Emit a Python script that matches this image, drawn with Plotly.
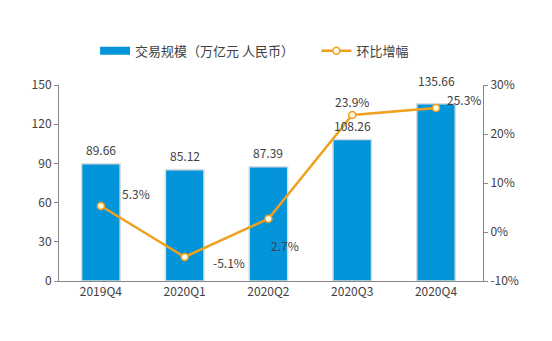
import plotly.graph_objects as go

categories = ["2019Q4", "2020Q1", "2020Q2", "2020Q3", "2020Q4"]
volume = [89.66, 85.12, 87.39, 108.26, 135.66]
growth = [5.3, -5.1, 2.7, 23.9, 25.3]
volume_labels = ["89.66", "85.12", "87.39", "108.26", "135.66"]
growth_labels = ["5.3%", "-5.1%", "2.7%", "23.9%", "25.3%"]
right_ticks = [-10, 0, 10, 20, 30]
right_ticktext = ["-10%", "0%", "10%", "20%", "30%"]
left_ticks = [0, 30, 60, 90, 120, 150]
bar_name = "交易规模（万亿元 人民币）"
line_name = "环比增幅"

# label offsets (pixels)
growth_dx = [35, 44, 17, 0, 28]
growth_dy = [13, -6, -27, 13, 9]
volume_dy = [14, 14, 14, 14, 23]

FONT = "Noto Sans CJK SC, Noto Sans, sans-serif"
TXT = "#404040"
BLUE = "#0494DA"
ORANGE = "#EFA01E"

fig = go.Figure()
fig.add_trace(go.Bar(
    x=categories, y=volume, name=bar_name, showlegend=False,
    marker=dict(color=BLUE, line=dict(color="#D8DDE0", width=1.5)),
    width=0.46,
))
# legend proxy for bars (wide rectangle symbol)
fig.add_trace(go.Scatter(
    x=[None], y=[None], mode="lines", name=bar_name + "\u00a0" * 6,
    line=dict(color=BLUE, width=8),
))
fig.add_trace(go.Scatter(
    x=categories, y=growth, name=line_name, yaxis="y2", mode="lines+markers",
    line=dict(color=ORANGE, width=2.5),
    marker=dict(size=7, color="#FFF8DC", line=dict(color=ORANGE, width=1.5)),
    cliponaxis=False,
))
for c, v, t, dy in zip(categories, volume, volume_labels, volume_dy):
    fig.add_annotation(x=c, y=v, xref="x", yref="y", text=t, showarrow=False,
                       yshift=dy, font=dict(size=12, color=TXT, family=FONT))
for c, g, t, dx, dy in zip(categories, growth, growth_labels, growth_dx, growth_dy):
    fig.add_annotation(x=c, y=g, xref="x", yref="y2", text=t, showarrow=False,
                       xshift=dx, yshift=dy, font=dict(size=12, color=TXT, family=FONT))

fig.update_layout(
    width=552, height=341,
    margin=dict(l=59, r=69, t=85, b=60),
    paper_bgcolor="white", plot_bgcolor="white",
    font=dict(family=FONT, size=12, color=TXT),
    showlegend=True,
    legend=dict(orientation="h", x=0.085, xanchor="left", y=1.175, yanchor="middle",
                font=dict(size=13, color=TXT), traceorder="normal"),
    xaxis=dict(showline=True, linecolor="#888888", linewidth=1, ticks="",
               tickfont=dict(size=12, color=TXT), showgrid=False),
    yaxis=dict(range=[0, 150], tickvals=left_ticks, showgrid=False,
               showline=True, linecolor="#888888", linewidth=1, ticks="outside",
               ticklen=4, tickcolor="#888888", zeroline=False,
               tickfont=dict(size=12, color=TXT)),
    yaxis2=dict(range=[-10, 30], tickvals=right_ticks, ticktext=right_ticktext,
                overlaying="y", side="right", showgrid=False, zeroline=False,
                showline=True, linecolor="#888888", linewidth=1, ticks="outside",
                ticklen=4, tickcolor="#888888", tickfont=dict(size=12, color=TXT)),
)

fig.write_html("out.html")
